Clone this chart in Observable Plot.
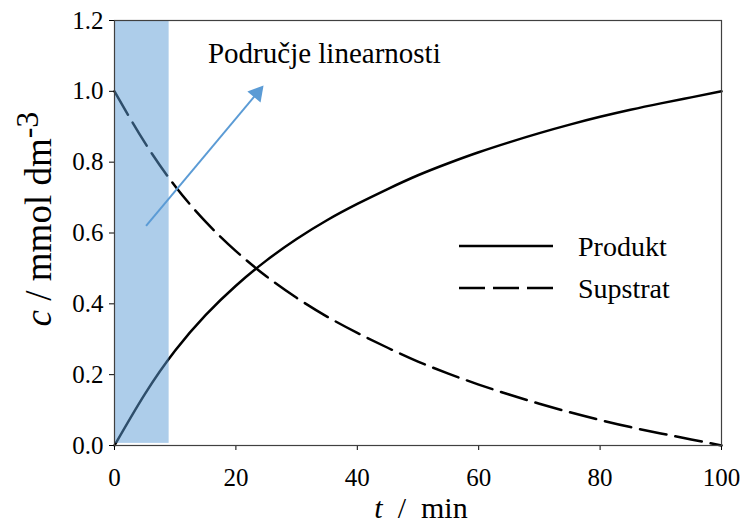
<!DOCTYPE html>
<html><head><meta charset="utf-8">
<script src="https://cdn.jsdelivr.net/npm/d3@7"></script>
<script src="https://cdn.jsdelivr.net/npm/@observablehq/plot@0.6"></script>
<style>
html,body{margin:0;padding:0;background:#fff;}
#chart svg{font-family:"Liberation Serif","Times New Roman",serif;}
</style></head><body><div id="chart"></div>
<script>
// time (min)
const time = [0, 5, 10, 15, 20, 25, 30, 35, 40, 45, 50, 55, 60, 65, 70, 75, 80, 85, 90, 95, 100];
// concentration c / mmol dm-3
const produkt = [0, 0.145, 0.268, 0.368, 0.451, 0.522, 0.583, 0.636, 0.682, 0.724, 0.763, 0.797, 0.828, 0.856, 0.882, 0.906, 0.928, 0.948, 0.966, 0.983, 1.0];
const supstrat = [1.0, 0.855, 0.732, 0.632, 0.549, 0.478, 0.417, 0.364, 0.318, 0.276, 0.237, 0.203, 0.172, 0.144, 0.118, 0.094, 0.072, 0.052, 0.034, 0.017, 0.0];
const seriesNames = ["Produkt", "Supstrat"];
const xTicks = [0, 20, 40, 60, 80, 100];
const yTicks = [0, 0.2, 0.4, 0.6, 0.8, 1.0, 1.2];
// linear region band (min) and annotation arrow (data units)
const band = [{t1: 0, t2: 9}];
const arrowLine = [{t1: 5.2, c1: 0.62, t2: 23.5, c2: 0.995}];
const annotation = [{t: 15.4, c: 1.105, label: "Područje linearnosti"}];

const BLUE = "#5B9BD5";

const rowsP = time.map((t, i) => ({t, c: produkt[i]}));
const rowsS = time.map((t, i) => ({t, c: supstrat[i]}));

const plot = Plot.plot({
  width: 741, height: 525,
  marginLeft: 114, marginRight: 20, marginTop: 20, marginBottom: 80,
  style: {fontSize: "25px", color: "#000", background: "#fff", overflow: "visible"},
  x: {domain: [0, 100], ticks: xTicks, tickSize: 5, tickPadding: 18, label: null, tickFormat: d3.format("d")},
  y: {domain: [0, 1.2], ticks: yTicks, tickSize: 5, tickPadding: 6, label: null, tickFormat: d3.format(".1f")},
  marks: [
    Plot.line(rowsP, {x: "t", y: "c", stroke: "#000", strokeWidth: 2.5, curve: "natural"}),
    Plot.line(rowsS, {x: "t", y: "c", stroke: "#000", strokeWidth: 2.5, strokeDasharray: "27,9", curve: "natural"}),
    Plot.rect(band, {x1: "t1", x2: "t2", y1: () => 0.006, y2: () => 1.2, fill: BLUE, fillOpacity: 0.5}),
    Plot.frame({stroke: "#404040", strokeWidth: 1.2}),
    Plot.link(arrowLine, {x1: "t1", y1: "c1", x2: "t2", y2: "c2", stroke: BLUE, strokeWidth: 2}),
    Plot.dot(arrowLine, {x: "t2", y: "c2", symbol: "triangle", r: 6.4, fill: BLUE, stroke: null, rotate: 40}),
    Plot.text(annotation, {x: "t", y: "c", text: "label", textAnchor: "start", fontSize: 29, fill: "#000"})
  ]
});
document.getElementById("chart").appendChild(plot);

const svg = d3.select(plot);
// x axis title
const xt = svg.append("text").attr("x", 421).attr("y", 518).attr("text-anchor", "middle")
  .style("font-size", "30px").attr("fill", "#000");
xt.append("tspan").attr("font-style", "italic").text("t");
xt.append("tspan").text("\u2002/\u2002min");
// y axis title
const yt = svg.append("text").attr("transform", "translate(51,219) rotate(-90)").attr("text-anchor", "middle")
  .style("font-size", "37px").attr("fill", "#000");
yt.append("tspan").attr("font-style", "italic").text("c");
yt.append("tspan").text(" / mmol dm");
yt.append("tspan").attr("dy", "-0.42em").style("font-size", "32px").text("-3");
// legend
const leg = svg.append("g");
[{name: seriesNames[0], y: 246, dash: null}, {name: seriesNames[1], y: 288, dash: "26,8"}].forEach(d => {
  leg.append("line").attr("x1", 459).attr("x2", 553).attr("y1", d.y).attr("y2", d.y)
    .attr("stroke", "#000").attr("stroke-width", 2.5).attr("stroke-dasharray", d.dash);
  leg.append("text").attr("x", 578).attr("y", d.y + 10).attr("text-anchor", "start")
    .style("font-size", "28px").attr("fill", "#000").text(d.name);
});
</script></body></html>
